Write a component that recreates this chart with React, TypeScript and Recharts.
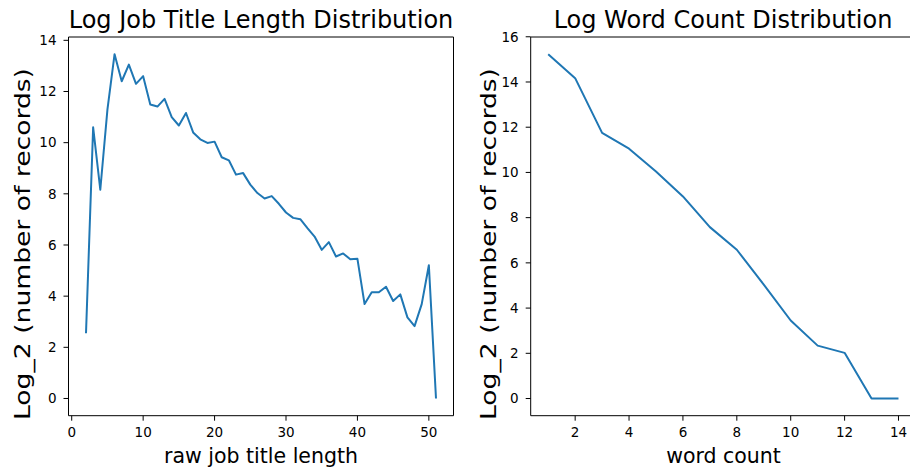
import React from "react";
import { LineChart, Line, XAxis, YAxis } from "recharts";

// raw job title length (characters) and log2 of record counts
const titleLengths = [
  2, 3, 4, 5, 6, 7, 8, 9, 10, 11, 12, 13, 14, 15, 16, 17, 18, 19, 20, 21, 22, 23, 24, 25, 26,
  27, 28, 29, 30, 31, 32, 33, 34, 35, 36, 37, 38, 39, 40, 41, 42, 43, 44, 45, 46, 47, 48, 49, 50, 51,
];
const titleLog2 = [
  2.55, 10.6, 8.16, 11.29, 13.46, 12.4, 13.05, 12.3, 12.6, 11.49, 11.41, 11.71, 11.0, 10.67,
  11.16, 10.4, 10.13, 9.99, 10.04, 9.43, 9.31, 8.75, 8.81, 8.36, 8.03, 7.82, 7.91, 7.61, 7.27,
  7.06, 7.01, 6.66, 6.33, 5.81, 6.11, 5.55, 5.67, 5.44, 5.46, 3.69, 4.15, 4.15, 4.37, 3.81,
  4.07, 3.17, 2.83, 3.69, 5.21, 0,
];

// words per title and log2 of record counts
const wordCounts = [1, 2, 3, 4, 5, 6, 7, 8, 9, 10, 11, 12, 13, 14];
const wordLog2 = [15.23, 14.17, 11.75, 11.05, 10.04, 8.94, 7.58, 6.58, 5.04, 3.45, 2.34, 2.02, 0, 0];

const titleTicksX = [0, 10, 20, 30, 40, 50];
const titleTicksY = [0, 2, 4, 6, 8, 10, 12, 14];
const wordTicksX = [2, 4, 6, 8, 10, 12, 14];
const wordTicksY = [0, 2, 4, 6, 8, 10, 12, 14, 16];

const FONT = '"DejaVu Sans", sans-serif';
const BLUE = "#1f77b4";
const H = 469;

type Point = { x: number; y: number };

type PanelProps = {
  data: Point[];
  left: number;
  width: number;
  yAxisWidth: number;
  rightMargin: number;
  xDomain: [number, number];
  xTicks: number[];
  yDomain: [number, number];
  yTicks: number[];
};

const tickStyle = { fill: "#000", fontSize: 13.5, fontFamily: FONT };

function Panel(p: PanelProps) {
  return (
    <div style={{ position: "absolute", left: p.left, top: 0 }}>
      <LineChart
        width={p.width}
        height={H}
        data={p.data}
        margin={{ top: 36, right: p.rightMargin, bottom: 0, left: 0 }}
      >
        <XAxis
          dataKey="x"
          type="number"
          domain={p.xDomain}
          ticks={p.xTicks}
          interval={0}
          allowDataOverflow
          height={53.3}
          tickSize={5}
          tickMargin={7}
          stroke="#000"
          tick={tickStyle}
        />
        <XAxis
          xAxisId="top"
          orientation="top"
          type="number"
          domain={p.xDomain}
          allowDataOverflow
          height={1}
          tick={false}
          tickLine={false}
          stroke="#000"
        />
        <YAxis
          type="number"
          domain={p.yDomain}
          ticks={p.yTicks}
          interval={0}
          allowDataOverflow
          width={p.yAxisWidth}
          tickSize={5}
          tickMargin={7}
          stroke="#000"
          tick={tickStyle}
        />
        <YAxis
          yAxisId="right"
          orientation="right"
          type="number"
          domain={p.yDomain}
          allowDataOverflow
          width={1}
          tick={false}
          tickLine={false}
          stroke="#000"
        />
        <Line
          dataKey="y"
          type="linear"
          stroke={BLUE}
          strokeWidth={2}
          strokeLinejoin="round"
          dot={false}
          activeDot={false}
          isAnimationActive={false}
        />
      </LineChart>
    </div>
  );
}

export default function App() {
  const titleData = titleLengths.map((x, i) => ({ x, y: titleLog2[i] }));
  const wordData = wordCounts.map((x, i) => ({ x, y: wordLog2[i] }));

  return (
    <div
      style={{
        position: "fixed",
        left: 0,
        top: 0,
        width: 910,
        height: H,
        overflow: "hidden",
        background: "#fff",
        fontFamily: FONT,
      }}
    >
      <Panel
        data={titleData}
        left={0}
        width={470}
        yAxisWidth={68.5}
        rightMargin={15.5}
        xDomain={[-0.45, 53.45]}
        xTicks={titleTicksX}
        yDomain={[-0.673, 14.13]}
        yTicks={titleTicksY}
      />
      <Panel
        data={wordData}
        left={470}
        width={460}
        yAxisWidth={60.7}
        rightMargin={13}
        xDomain={[0.35, 14.65]}
        xTicks={wordTicksX}
        yDomain={[-0.76, 15.99]}
        yTicks={wordTicksY}
      />
      <svg
        width={910}
        height={H}
        style={{ position: "absolute", left: 0, top: 0, pointerEvents: "none" }}
        fontFamily={FONT}
        fill="#000"
      >
        <text x={261} y={28} fontSize={24} textAnchor="middle">
          Log Job Title Length Distribution
        </text>
        <text x={723} y={28} fontSize={24} textAnchor="middle">
          Log Word Count Distribution
        </text>
        <text x={261} y={463} fontSize={20.5} textAnchor="middle">
          raw job title length
        </text>
        <text x={723.5} y={463} fontSize={20.5} textAnchor="middle">
          word count
        </text>
        <text
          transform="translate(22,244) rotate(-90)"
          fontSize={22}
          textAnchor="middle"
          dy="0.35em"
          textLength={352}
          lengthAdjust="spacingAndGlyphs"
        >
          Log_2 (number of records)
        </text>
        <text
          transform="translate(488,244) rotate(-90)"
          fontSize={22}
          textAnchor="middle"
          dy="0.35em"
          textLength={352}
          lengthAdjust="spacingAndGlyphs"
        >
          Log_2 (number of records)
        </text>
      </svg>
    </div>
  );
}
